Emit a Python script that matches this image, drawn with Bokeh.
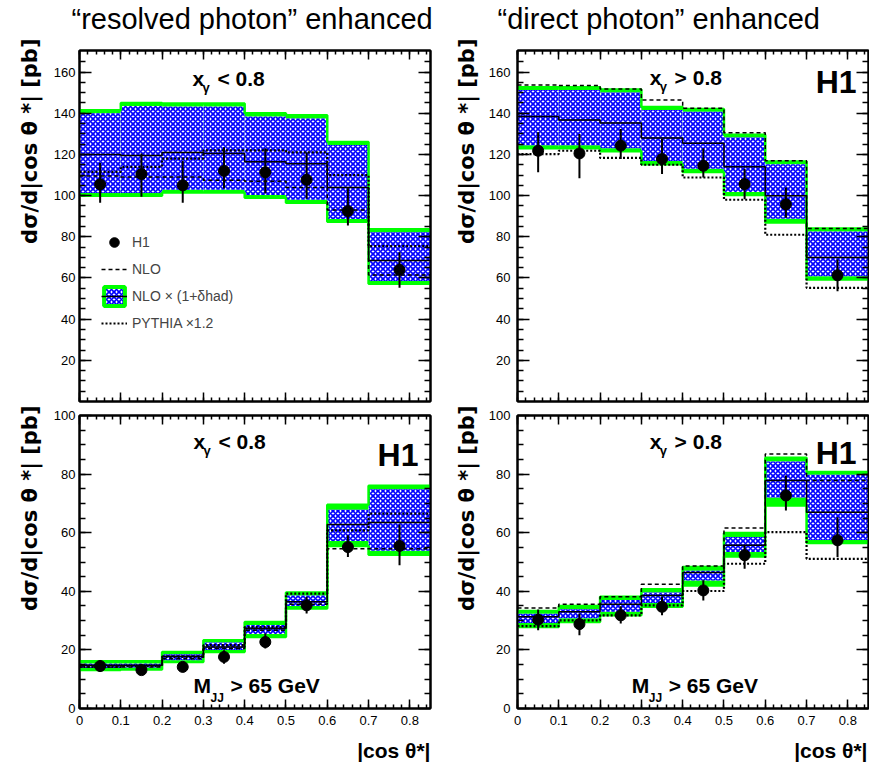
import math
from bokeh.plotting import figure
from bokeh.models import Range1d, FixedTicker, LinearAxis, Label, Legend, LegendItem
from bokeh.layouts import column, row
from bokeh.embed import file_html
from bokeh.resources import INLINE

# ---------------- data ----------------
bin_edges = [0.0, 0.1, 0.2, 0.3, 0.4, 0.5, 0.6, 0.7, 0.85]
bin_centres = [0.05, 0.15, 0.25, 0.35, 0.45, 0.55, 0.65, 0.775]

x_tick_values = [0.0, 0.1, 0.2, 0.3, 0.4, 0.5, 0.6, 0.7, 0.8]
x_tick_labels = ["0", "0.1", "0.2", "0.3", "0.4", "0.5", "0.6", "0.7", "0.8"]
y_ticks_top = [20, 40, 60, 80, 100, 120, 140, 160]
y_ticks_bottom = [0, 20, 40, 60, 80, 100]

# top-left: resolved enhanced, x_gamma < 0.8
tl_h1 = [105.5, 110.5, 105.0, 112.0, 111.3, 107.7, 92.5, 64.0]
tl_h1_hi = [116.0, 120.5, 117.0, 123.5, 123.0, 121.0, 103.6, 72.5]
tl_h1_lo = [96.5, 99.5, 96.5, 103.5, 101.0, 98.5, 85.5, 55.2]
tl_nlo = [109.5, 109.0, 109.0, 107.5, 107.0, 104.0, 93.0, 61.5]
tl_nlohad = [120.0, 119.5, 121.0, 120.5, 116.5, 115.5, 104.0, 68.5]
tl_pythia = [111.5, 114.0, 118.0, 122.0, 122.0, 121.0, 110.0, 75.5]
tl_tot_hi = [141.5, 145.0, 144.7, 144.7, 140.0, 139.0, 126.0, 83.7]
tl_tot_lo = [100.0, 100.0, 101.5, 101.5, 99.0, 96.5, 87.3, 57.2]
tl_scl_hi = [140.0, 143.5, 143.3, 143.3, 138.5, 137.5, 124.6, 82.2]
tl_scl_lo = [101.3, 101.3, 102.8, 102.8, 100.3, 98.0, 88.7, 58.5]

# top-right: direct enhanced, x_gamma > 0.8
tr_h1 = [121.8, 120.5, 124.3, 117.8, 114.5, 105.6, 95.8, 61.3]
tr_h1_hi = [130.8, 130.0, 132.4, 127.5, 123.0, 113.0, 104.0, 69.0]
tr_h1_lo = [111.3, 108.5, 117.8, 110.5, 108.8, 98.3, 89.3, 53.6]
tr_nlo = [153.8, 153.5, 151.8, 146.5, 142.5, 130.5, 117.0, 84.0]
tr_nlohad = [138.4, 136.8, 135.3, 128.0, 125.4, 114.0, 100.0, 70.0]
tr_pythia = [120.2, 121.8, 118.3, 115.0, 108.8, 98.0, 81.0, 55.2]
tr_tot_hi = [152.7, 152.7, 151.5, 143.0, 142.1, 129.6, 116.6, 84.0]
tr_tot_lo = [123.0, 123.0, 121.5, 115.3, 111.5, 100.3, 87.0, 59.3]
tr_scl_hi = [151.3, 151.3, 150.1, 141.6, 140.7, 128.2, 115.2, 82.6]
tr_scl_lo = [124.5, 124.5, 123.0, 116.8, 113.0, 101.8, 88.8, 60.8]

# bottom-left: M_JJ > 65 GeV, x_gamma < 0.8
bl_h1 = [14.5, 13.1, 14.2, 17.6, 22.7, 35.2, 55.1, 55.5]
bl_h1_hi = [16.5, 14.5, 15.9, 19.9, 25.6, 38.1, 59.1, 62.8]
bl_h1_lo = [12.5, 11.4, 12.5, 15.3, 20.5, 32.4, 51.7, 48.9]
bl_nlo = [14.2, 14.2, 17.0, 20.5, 26.7, 35.6, 54.5, 54.5]
bl_nlohad = [14.8, 14.8, 17.8, 21.0, 27.3, 36.4, 62.8, 63.5]
bl_pythia = [14.2, 14.5, 17.6, 21.6, 27.8, 39.2, 60.8, 66.5]
bl_tot_hi = [16.1, 16.1, 19.3, 23.3, 29.5, 39.6, 69.5, 76.0]
bl_tot_lo = [13.1, 13.3, 15.9, 19.3, 24.4, 34.1, 55.5, 52.5]
bl_scl_hi = [15.4, 15.4, 18.5, 22.5, 28.5, 38.6, 67.8, 74.8]
bl_scl_lo = [13.8, 14.0, 16.5, 20.0, 25.4, 35.0, 57.2, 53.8]

# bottom-right: M_JJ > 65 GeV, x_gamma > 0.8
br_h1 = [30.3, 28.8, 31.8, 34.7, 40.3, 52.3, 72.7, 57.4]
br_h1_hi = [33.8, 32.4, 34.9, 38.1, 43.8, 55.7, 79.5, 65.3]
br_h1_lo = [26.7, 25.0, 29.0, 31.8, 36.9, 47.7, 67.6, 51.7]
br_nlo = [34.3, 35.6, 38.1, 42.4, 48.6, 61.6, 86.9, 77.8]
br_nlohad = [31.3, 33.0, 35.6, 38.6, 46.4, 55.7, 77.8, 67.0]
br_pythia = [28.1, 30.1, 31.8, 35.2, 40.1, 49.4, 60.2, 51.1]
br_tot_hi = [33.3, 35.0, 38.1, 40.7, 48.3, 59.9, 85.6, 80.7]
br_tot_lo = [27.8, 29.5, 31.8, 34.7, 42.0, 51.9, 69.3, 56.5]
br_scl_hi = [32.3, 33.9, 37.0, 39.6, 47.0, 58.5, 84.3, 79.8]
br_scl_lo = [29.2, 30.8, 33.0, 36.0, 43.7, 53.4, 72.0, 57.5]

title_left = "\u201cresolved photon\u201d enhanced"
title_right = "\u201cdirect photon\u201d enhanced"
y_title = "d\u03c3/d|cos \u03b8 *| [pb]"
x_title = "|cos \u03b8*|"
legend_labels = ["H1", "NLO", "NLO \u00d7 (1+\u03b4had)", "PYTHIA \u00d71.2"]

GREEN = "#00ff00"
BLUE = "#0000ff"
FONT = "Liberation Sans"
NAN = float("nan")
MID = 0.33  # baseline -> text middle, in em


def make_panel(cfg, h1, h1_hi, h1_lo, nlo, nlohad, pythia, tot_hi, tot_lo, scl_hi, scl_lo, legend=False):
    ymax = cfg["ymax"]
    p = figure(width=cfg["W"], height=cfg["H"],
               x_range=Range1d(0, 0.85), y_range=Range1d(0, ymax),
               output_backend="svg", toolbar_location=None,
               x_axis_location=None, y_axis_location=None,
               min_border_left=cfg["bl"], min_border_right=cfg["br"],
               min_border_top=cfg["bt"], min_border_bottom=cfg["bb"])
    p.grid.visible = False
    p.background_fill_color = "white"
    p.border_fill_color = "white"
    p.outline_line_color = "black"
    p.outline_line_width = 2

    yt = cfg["yticks"]
    ym = [v for v in range(5, int(ymax), 5)]
    xm = [round(0.02 * i, 2) for i in range(0, 43)]
    for loc in ["left", "right", "below", "above"]:
        if loc in ("left", "right"):
            ax = LinearAxis(ticker=FixedTicker(ticks=yt, minor_ticks=ym))
            ax.major_tick_in = 12
            ax.minor_tick_in = 6
        else:
            ax = LinearAxis(ticker=FixedTicker(ticks=x_tick_values, minor_ticks=xm))
            ax.major_tick_in = 9
            ax.minor_tick_in = 4
            ax.major_label_overrides = {v: s for v, s in zip(x_tick_values, x_tick_labels)}
        ax.major_tick_out = 0
        ax.minor_tick_out = 0
        ax.axis_line_color = "black"
        ax.axis_line_width = 2
        ax.major_tick_line_width = 1.5
        ax.minor_tick_line_width = 1.5
        ax.major_label_text_font = FONT
        ax.major_label_text_font_size = "13px"
        ax.major_label_text_color = "black"
        show = (loc == "left") or (loc == "below" and cfg["xlabels"])
        if show:
            ax.major_label_standoff = cfg["ystand"] if loc == "left" else 7
        else:
            ax.major_label_text_color = None
            ax.major_label_text_font_size = "0px"
            ax.major_label_standoff = 0
        p.add_layout(ax, loc)

    left = bin_edges[:-1]
    right = bin_edges[1:]
    p.quad(left=left, right=right, bottom=tot_lo, top=tot_hi, fill_color=GREEN, line_color=None)
    p.quad(left=left, right=right, bottom=scl_lo, top=scl_hi, fill_color="white", line_color=None,
           hatch_pattern="x", hatch_color=BLUE, hatch_scale=5, hatch_weight=1.7)
    p.step(bin_edges, tot_hi + tot_hi[-1:], mode="after", line_color=GREEN, line_width=2.5)
    p.step(bin_edges, tot_lo + tot_lo[-1:], mode="after", line_color=GREEN, line_width=2.5)
    r_nlo = p.step(bin_edges, nlo + nlo[-1:], mode="after", line_color="black", line_width=1.5, line_dash="4 3")
    r_had = p.step(bin_edges, nlohad + nlohad[-1:], mode="after", line_color="black", line_width=1.5)
    r_py = p.step(bin_edges, pythia + pythia[-1:], mode="after", line_color="black", line_width=2.2, line_dash="2 2")
    p.segment(x0=bin_centres, y0=h1_lo, x1=bin_centres, y1=h1_hi, line_color="black", line_width=2)
    r_pts = p.scatter(bin_centres, h1, size=11, color="black")

    if legend:
        # legend proxy (NaN geometry, never drawn in the plot area)
        r_box = p.quad(left=[NAN], right=[NAN], bottom=[NAN], top=[NAN], fill_color="white",
                       line_color=GREEN, line_width=4,
                       hatch_pattern="x", hatch_color=BLUE, hatch_scale=5, hatch_weight=1.7)
        lg = Legend(items=[LegendItem(label=legend_labels[0], renderers=[r_pts]),
                           LegendItem(label=legend_labels[1], renderers=[r_nlo]),
                           LegendItem(label=legend_labels[2], renderers=[r_box, r_had]),
                           LegendItem(label=legend_labels[3], renderers=[r_py])],
                    location=(22, 66), padding=0, margin=0, spacing=3,
                    glyph_width=26, glyph_height=24, label_standoff=5,
                    label_text_font=FONT, label_text_font_size="14px",
                    background_fill_alpha=0, border_line_alpha=0)
        p.add_layout(lg)
    return p


def _label(x, y, text, size, bold, align, angle, baseline, font):
    return Label(x=x, y=y, text=text, text_font=font, text_font_size=f"{size}px",
                 text_font_style="bold" if bold else "normal", text_align=align,
                 text_baseline=baseline, angle=angle, text_color="black")


def lab(p, cfg, X, Y, text, size, bold=True, align="left"):
    """Text whose baseline sits at page pixel (X, Y) inside a panel frame."""
    Ym = Y - MID * size
    x = (X - cfg["fl"]) * 0.85 / cfg["fw"]
    y = cfg["ymax"] - (Ym - cfg["ft"]) * cfg["ymax"] / cfg["fh"]
    p.add_layout(_label(x, y, text, size, bold, align, 0.0, "middle", FONT))


def strip(width, height, x0, y0):
    s = figure(width=width, height=height, x_range=Range1d(0, width), y_range=Range1d(0, height),
               output_backend="svg", toolbar_location=None, x_axis_location=None, y_axis_location=None,
               min_border=0, min_border_left=0, min_border_right=0, min_border_top=0, min_border_bottom=0)
    s.grid.visible = False
    s.outline_line_color = None
    s.background_fill_color = "white"
    s.border_fill_color = "white"
    s._origin = (x0, y0, height)
    return s


def slab(s, X, Y, text, size, bold=True, align="left", angle=0.0, font=FONT, rotated=False):
    x0, y0, h = s._origin
    Ym = Y if rotated else Y - MID * size
    s.add_layout(_label(X - x0, h - (Ym - y0), text, size, bold, align, angle, "middle", font))


# page geometry: header 0-36, panels 36-735, footer 735-762
cfg_tl = dict(W=390, H=372, bl=29, br=10, bt=14, bb=7, ymax=170.5, yticks=y_ticks_top, xlabels=False,
              fl=79, fw=351, ft=50, fh=351, ystand=4)
cfg_tr = dict(W=384, H=372, bl=30, br=1, bt=14, bb=7, ymax=170.5, yticks=y_ticks_top, xlabels=False,
              fl=515, fw=353, ft=50, fh=351, ystand=7)
cfg_bl = dict(W=390, H=327, bl=29, br=10, bt=7, bb=27, ymax=100, yticks=y_ticks_bottom, xlabels=True,
              fl=79, fw=351, ft=415, fh=293, ystand=4)
cfg_br = dict(W=384, H=327, bl=30, br=1, bt=7, bb=27, ymax=100, yticks=y_ticks_bottom, xlabels=True,
              fl=515, fw=353, ft=415, fh=293, ystand=7)

p_tl = make_panel(cfg_tl, tl_h1, tl_h1_hi, tl_h1_lo, tl_nlo, tl_nlohad, tl_pythia,
                  tl_tot_hi, tl_tot_lo, tl_scl_hi, tl_scl_lo, legend=True)
p_tr = make_panel(cfg_tr, tr_h1, tr_h1_hi, tr_h1_lo, tr_nlo, tr_nlohad, tr_pythia,
                  tr_tot_hi, tr_tot_lo, tr_scl_hi, tr_scl_lo)
p_bl = make_panel(cfg_bl, bl_h1, bl_h1_hi, bl_h1_lo, bl_nlo, bl_nlohad, bl_pythia,
                  bl_tot_hi, bl_tot_lo, bl_scl_hi, bl_scl_lo)
p_br = make_panel(cfg_br, br_h1, br_h1_hi, br_h1_lo, br_nlo, br_nlohad, br_pythia,
                  br_tot_hi, br_tot_lo, br_scl_hi, br_scl_lo)

# x_gamma cut labels
for p, cfg, xs, ys, sym in [(p_tl, cfg_tl, 192, 85, "< 0.8"), (p_tr, cfg_tr, 648, 84, "> 0.8"),
                            (p_bl, cfg_bl, 193, 448, "< 0.8"), (p_br, cfg_br, 648, 448, "> 0.8")]:
    lab(p, cfg, xs, ys, "x", 21)
    lab(p, cfg, xs + 10, ys + 6, "\u03b3", 13)
    lab(p, cfg, xs + 25, ys, sym, 21)

# M_JJ labels
for p, cfg, xs in [(p_bl, cfg_bl, 193), (p_br, cfg_br, 630)]:
    lab(p, cfg, xs, 692, "M", 21)
    lab(p, cfg, xs + 17, 701, "JJ", 12)
    lab(p, cfg, xs + 37, 692, "> 65 GeV", 21)

# H1 logos
lab(p_tr, cfg_tr, 856, 92, "H1", 32, align="right")
lab(p_bl, cfg_bl, 418, 465, "H1", 32, align="right")
lab(p_br, cfg_br, 856, 463, "H1", 32, align="right")

# header with the two column titles
header = strip(869, 36, 0, 0)
slab(header, 71, 28, title_left, 29, bold=False)
slab(header, 497, 28, title_right, 29, bold=False)

# y-title strips
ys_left = strip(50, 699, 0, 36)
ys_right = strip(45, 699, 440, 36)
for s, X in [(ys_left, 29), (ys_right, 466)]:
    for Y in (38, 405):
        slab(s, X, Y, y_title, 21, bold=True, align="right", angle=math.pi / 2,
             font="DejaVu Sans", rotated=True)

# footer with x titles
footer = strip(869, 27, 0, 735)
slab(footer, 430, 757, x_title, 21, bold=True, align="right")
slab(footer, 867, 757, x_title, 21, bold=True, align="right")

layout = column(
    header,
    row(ys_left, column(p_tl, p_bl, spacing=0), ys_right, column(p_tr, p_br, spacing=0), spacing=0),
    footer,
    spacing=0,
)

open("out.html", "w").write(file_html(layout, INLINE))
